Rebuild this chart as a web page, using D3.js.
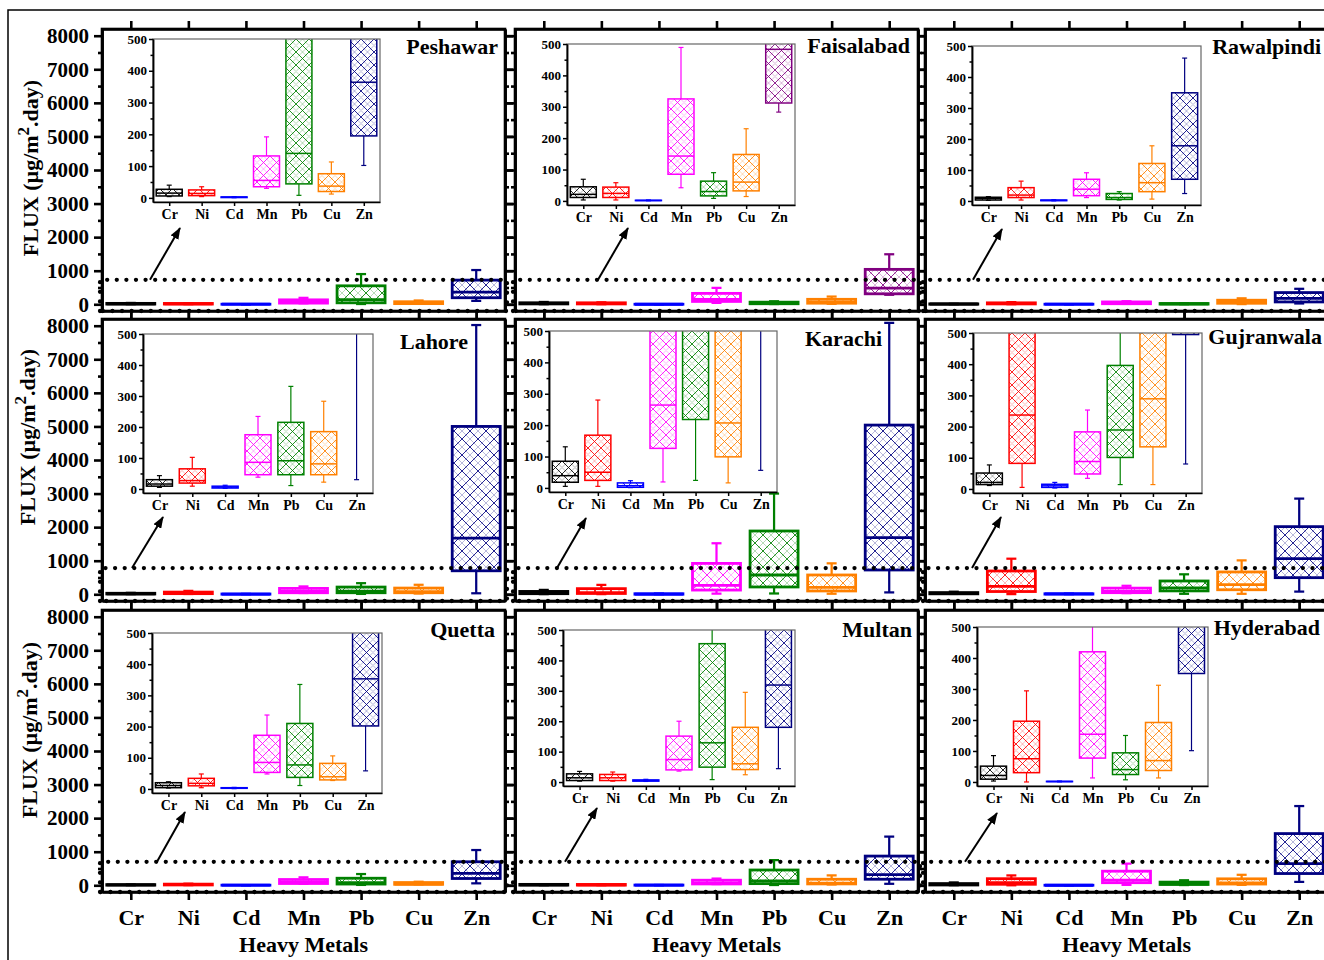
<!DOCTYPE html>
<html><head><meta charset="utf-8">
<script src="https://cdn.jsdelivr.net/npm/d3@7"></script>
<style>
body{margin:0;background:#fff}
svg{display:block}
text{font-family:"Liberation Serif","Times New Roman",serif;font-weight:bold;fill:#000}
</style>
</head><body>
<svg id="c" width="1324" height="960"></svg>
<script>
// ---------------- DATA ----------------
const metals = ["Cr","Ni","Cd","Mn","Pb","Cu","Zn"];
const cities = ["Peshawar","Faisalabad","Rawalpindi","Lahore","Karachi","Gujranwala","Quetta","Multan","Hyderabad"];
// each row: [min, q1, median, q3, max] for Cr, Ni, Cd, Mn, Pb, Cu, Zn  (µg/m².day)
const peshawar   = [[4,6,15,27,40],[4,7,14,25,35],[0.5,1,2,3,4],[30,35,55,132,192],[8,44,140,550,900],[12,20,37,76,113],[102,195,364,720,1020]];
const faisalabad = [[3,11,21,45,69],[3,11,24,44,58],[0.5,1,1.5,2,3],[42,85,143,325,489],[8,16,30,63,90],[14,32,60,148,230],[283,312,483,1040,1490]];
const rawalpindi = [[2,3,8,12,14],[3,11,19,43,64],[0.5,1,2,3,4],[11,17,38,70,91],[3,5,11,24,30],[6,30,59,121,178],[24,70,178,349,461]];
const lahore     = [[5,9,16,30,43],[9,19,27,65,102],[2,3,6,9,12],[38,46,86,175,234],[11,46,91,215,331],[22,46,81,185,283],[30,700,1670,5000,8020]];
const karachi    = [[5,18,39,85,131],[5,24,50,168,280],[1,2,7,16,23],[19,126,264,920,1520],[24,218,575,1885,3000],[16,99,207,575,922],[56,724,1690,5040,8085]];
const gujranwala = [[11,14,21,51,77],[5,82,237,694,1060],[3,5,10,15,21],[34,48,88,183,253],[14,101,189,396,595],[14,135,289,665,1010],[80,495,1062,2015,2850]];
const quetta     = [[3,4,11,20,23],[4,10,18,34,48],[1,2,3,4,5],[48,53,85,172,237],[11,37,77,210,335],[27,29,39,82,106],[58,202,353,700,1050]];
const multan     = [[3,5,14,27,35],[3,5,14,25,33],[2,3,5,7,9],[36,40,74,151,200],[8,49,129,455,750],[24,41,60,180,295],[44,180,319,870,1450]];
const hyderabad  = [[3,9,21,51,85],[0,30,75,196,294],[0.5,1,1.5,2,3],[13,77,154,420,645],[7,24,40,94,150],[13,37,69,192,312],[101,350,645,1540,2360]];
const cityData = [peshawar,faisalabad,rawalpindi,lahore,karachi,gujranwala,quetta,multan,hyderabad];

const mainTicks  = [0,1000,2000,3000,4000,5000,6000,7000,8000];
const mainMinor  = [500,1500,2500,3500,4500,5500,6500,7500];
const insetTicks = [0,100,200,300,400,500];
const insetMinor = [50,150,250,350,450];
const zoomLimit  = [730,780,700];  // top of dotted zoom window, per row
const xTitle = "Heavy Metals";

// ---------------- STYLE / LAYOUT ----------------
const metalColors = ["#000000","#ff0000","#0000ff","#ff00ff","#008000","#ff8000","#000080"];
const zincAlt = "#800080"; // Faisalabad Zn
const colX = [102,515,925], rowY = [29,319,610], PW = 403, PH = 282;
const insetLayout = [[51,10,227,163],[52,15,228,161],[47,17,229,159],
                     [41,15,230,159],[34,12,228,161],[48,14,229,160],
                     [50,23,230,160],[48,20,232,156],[52,17,231,159]];
const arrowLayout = [[48,78,199],[83,113,199],[48,77,200],
                     [30,61,198],[42,71,199],[47,76,198],
                     [55,83,202],[50,82,198],[40,72,203]];
const titleLayout = [[396,25],[395,24],[396,25],[366,30],[367,27],[397,25],[393,27],[397,27],[395,25]];
const yTitleLayout = [[38,168],[35,437],[37,730]];

const svg = d3.select("#c");
const defs = svg.append("defs");
svg.append("rect").attr("width",1324).attr("height",960).attr("fill","#fff");
svg.append("path").attr("d","M8,960V10H1324").attr("fill","none").attr("stroke","#000").attr("stroke-width",1.5);

defs.append("marker").attr("id","arr").attr("markerUnits","userSpaceOnUse")
  .attr("markerWidth",12).attr("markerHeight",9).attr("refX",11).attr("refY",4.5).attr("orient","auto")
  .append("path").attr("d","M0,0L12,4.5L0,9z").attr("fill","#000");

const patCache = {};
function pat(color,size){
  const id = "p"+color.slice(1)+"_"+size;
  if(patCache[id]) return "url(#"+id+")";
  patCache[id]=1;
  const p = defs.append("pattern").attr("id",id).attr("patternUnits","userSpaceOnUse").attr("width",size).attr("height",size);
  const h=size/2;
  p.append("path").attr("d",`M0,0L${size},${size}M${size},0L0,${size}`).attr("stroke",color).attr("stroke-width",1).attr("opacity",0.85).attr("fill","none");
  p.append("path").attr("d",`M${h},0L${size},${h}M0,${h}L${h},${size}M${h},0L0,${h}M${size},${h}L${h},${size}`).attr("stroke",color).attr("stroke-width",1).attr("opacity",0.28).attr("fill","none");
  return "url(#"+id+")";
}

function drawBoxes(g, x, y, data, colors, bw, sw, capw, patSize){
  data.forEach((d,k)=>{
    const cx = x(metals[k]), col = colors[k];
    const [mn,q1,md,q3,mx] = d;
    const bg = g.append("g");
    bg.append("line").attr("x1",cx).attr("x2",cx).attr("y1",y(q3)).attr("y2",y(mx)).attr("stroke",col).attr("stroke-width",sw*0.8);
    bg.append("line").attr("x1",cx).attr("x2",cx).attr("y1",y(q1)).attr("y2",y(mn)).attr("stroke",col).attr("stroke-width",sw*0.8);
    [mn,mx].forEach(v=>bg.append("line").attr("x1",cx-capw/2).attr("x2",cx+capw/2).attr("y1",y(v)).attr("y2",y(v)).attr("stroke",col).attr("stroke-width",sw*0.8));
    bg.append("rect").attr("x",cx-bw/2).attr("width",bw).attr("y",y(q3)).attr("height",Math.max(0,y(q1)-y(q3)))
      .attr("fill",pat(col,patSize)).attr("stroke",col).attr("stroke-width",sw);
    bg.append("line").attr("x1",cx-bw/2).attr("x2",cx+bw/2).attr("y1",y(md)).attr("y2",y(md)).attr("stroke",col).attr("stroke-width",sw);
  });
}

function styleAxis(sel, sw, fs){
  sel.select(".domain").attr("stroke-width",sw);
  sel.selectAll(".tick line").attr("stroke-width",sw);
  sel.selectAll("text").style("font-size",fs+"px").style("font-family",'"Liberation Serif","Times New Roman",serif').style("font-weight","bold");
}

const dotW = 4.3, dotGap = "0 9.6";

cities.forEach((city,i)=>{
  const r = Math.floor(i/3), c = i%3;
  const L = colX[c], T = rowY[r];
  const g = svg.append("g").attr("transform",`translate(${L},${T})`);
  const x = d3.scalePoint().domain(metals).range([0,PW]).padding(0.5);
  const y = d3.scaleLinear().domain([-200,8200]).range([PH,0]);
  const colors = metalColors.slice();
  if(city==="Faisalabad") colors[6]=zincAlt;
  const data = cityData[i];

  const cid = "clip"+i;
  defs.append("clipPath").attr("id",cid).append("rect").attr("width",PW).attr("height",PH);
  const plot = g.append("g").attr("clip-path",`url(#${cid})`);
  drawBoxes(plot, x, y, data, colors, 48, 2.8, 10, 16);

  // frame
  g.append("rect").attr("width",PW).attr("height",PH).attr("fill","none").attr("stroke","#000").attr("stroke-width",2.6);

  // axes
  const la = g.append("g").call(d3.axisLeft(y).tickValues(mainTicks).tickSize(8).tickPadding(5).tickSizeOuter(0).tickFormat(c===0?d3.format("d"):""));
  styleAxis(la,2.6,21);
  g.append("g").call(d3.axisLeft(y).tickValues(mainMinor).tickSize(4).tickSizeOuter(0).tickFormat("")).call(s=>styleAxis(s,2.6,10));
  g.append("g").attr("transform",`translate(${PW},0)`).call(d3.axisRight(y).tickValues(mainTicks).tickSize(8).tickSizeOuter(0).tickFormat("")).call(s=>styleAxis(s,2.6,10));
  g.append("g").attr("transform",`translate(${PW},0)`).call(d3.axisRight(y).tickValues(mainMinor).tickSize(4).tickSizeOuter(0).tickFormat("")).call(s=>styleAxis(s,2.6,10));
  g.append("g").call(d3.axisTop(x).tickSize(8).tickSizeOuter(0).tickFormat("")).call(s=>styleAxis(s,2.6,10));
  const ba = g.append("g").attr("transform",`translate(0,${PH})`).call(d3.axisBottom(x).tickSize(8).tickPadding(9).tickSizeOuter(0).tickFormat(r===2?(d=>d):""));
  styleAxis(ba,2.6,22);

  // dotted zoom window (on top of boxes and axis line)
  const zt = y(zoomLimit[r]);
  g.append("path").attr("d",`M-2,${PH}V${zt}H${PW+2}V${PH}H-2`).attr("fill","none").attr("stroke","#000")
    .attr("stroke-width",dotW).attr("stroke-dasharray",dotGap).attr("stroke-linecap","round");

  if(r===2){
    g.append("text").attr("x",PW/2).attr("y",PH+60).attr("text-anchor","middle").style("font-size","22px").text(xTitle);
  }

  // title
  g.append("text").attr("x",titleLayout[i][0]).attr("y",titleLayout[i][1]).attr("text-anchor","end").style("font-size","22px").text(city);

  // inset
  const [ix,iy,iw,ih] = insetLayout[i];
  const ig = g.append("g").attr("transform",`translate(${ix},${iy})`);
  const xi = d3.scalePoint().domain(metals).range([0,iw]).padding(0.5);
  const yi = d3.scaleLinear().domain([-13,500]).range([ih,0]);
  ig.append("rect").attr("width",iw).attr("height",ih).attr("fill","#fff");
  const icid = "iclip"+i;
  defs.append("clipPath").attr("id",icid).append("rect").attr("width",iw).attr("height",ih);
  const ip = ig.append("g").attr("clip-path",`url(#${icid})`);
  drawBoxes(ip, xi, yi, data, colors, 26, 1.5, 5, 13);
  ig.append("rect").attr("width",iw).attr("height",ih).attr("fill","none").attr("stroke","#666").attr("stroke-width",1.2);
  const ila = ig.append("g").call(d3.axisLeft(yi).tickValues(insetTicks).tickSize(4).tickPadding(2).tickSizeOuter(0));
  styleAxis(ila,1.5,13);
  ig.append("g").call(d3.axisLeft(yi).tickValues(insetMinor).tickSize(2.5).tickSizeOuter(0).tickFormat("")).call(s=>styleAxis(s,1.5,10));
  const iba = ig.append("g").attr("transform",`translate(0,${ih})`).call(d3.axisBottom(xi).tickSize(4).tickPadding(3).tickSizeOuter(0));
  styleAxis(iba,1.5,14);

  // arrow
  const [tx,hx,hy] = arrowLayout[i];
  g.append("line").attr("x1",tx).attr("y1",zt).attr("x2",hx).attr("y2",hy).attr("stroke","#000").attr("stroke-width",2).attr("marker-end","url(#arr)");

  // y title
  if(c===0){
    const [bx,cy] = yTitleLayout[r];
    const t = svg.append("text").attr("transform",`translate(${bx},${cy}) rotate(-90)`).attr("text-anchor","middle").style("font-size","22px");
    t.append("tspan").text("FLUX (µg/m");
    t.append("tspan").attr("dy",-9).style("font-size","17px").text("2");
    t.append("tspan").attr("dy",9).text(".day)");
  }
});
</script>
</body></html>
